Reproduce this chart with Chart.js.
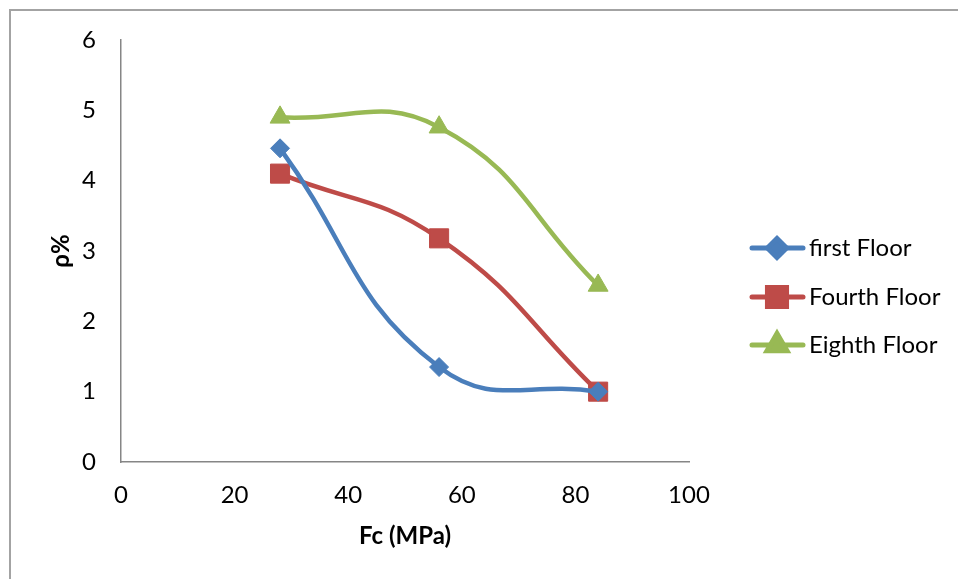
<!DOCTYPE html>
<html lang="en">
<head>
    <meta charset="UTF-8">
    <title>Fc vs ρ%</title>
    <script src="https://cdn.jsdelivr.net/npm/chart.js"></script>
    <style>
        body, html { margin: 0; padding: 0; background: #fff; }
        #frame { position: absolute; left: 9px; top: 9px; width: 980px; height: 620px; border: 2px solid #a3a3a3; box-sizing: border-box; }
        #chartContainer { position: absolute; left: 0; top: 0; width: 958px; height: 579px; }
    </style>
</head>
<body>
    <div id="frame"></div>
    <div id="chartContainer"><canvas id="chartCanvas" width="958" height="579"></canvas></div>

    <script>
        const fc = [28, 56, 84];
        const firstFloor = [4.46, 1.35, 1.0];
        const fourthFloor = [4.1, 3.18, 1.0];
        const eighthFloor = [4.9, 4.76, 2.51];
        const seriesNames = ['first Floor', 'Fourth Floor', 'Eighth Floor'];
        const xTicks = [0, 20, 40, 60, 80, 100];
        const yTicks = [0, 1, 2, 3, 4, 5, 6];

        const FONT = 'Lato, "Open Sans", sans-serif';
        const toPoints = ys => fc.map((x, i) => ({ x: x, y: ys[i] }));

        // legend on the right: line with marker, like the spreadsheet one
        const sideLegend = {
            id: 'sideLegend',
            afterDraw(chart) {
                const ctx = chart.ctx;
                const rows = [248, 297, 345];
                chart.data.datasets.forEach((ds, i) => {
                    const y = rows[i];
                    ctx.save();
                    ctx.strokeStyle = ds.borderColor;
                    ctx.lineWidth = 5;
                    ctx.lineCap = 'round';
                    ctx.beginPath();
                    ctx.moveTo(752, y);
                    ctx.lineTo(803, y);
                    ctx.stroke();
                    ctx.fillStyle = ds.backgroundColor;
                    ctx.strokeStyle = ds.backgroundColor;
                    Chart.helpers.drawPoint(ctx, { pointStyle: ds.pointStyle, radius: ds.pointRadius, rotation: 0, borderWidth: 1 }, 777, y);
                    ctx.fillStyle = '#000';
                    ctx.font = '24px ' + FONT;
                    ctx.textBaseline = 'middle';
                    ctx.textAlign = 'left';
                    ctx.fillText(ds.label, 809, y);
                    ctx.restore();
                });
            }
        };

        const ctx = document.getElementById('chartCanvas').getContext('2d');
        new Chart(ctx, {
            type: 'line',
            data: { datasets: [
                { label: seriesNames[0], data: toPoints(firstFloor), borderColor: '#4A7EBB', backgroundColor: '#4A7EBB', pointStyle: 'rectRot', pointRadius: 9.5 },
                { label: seriesNames[1], data: toPoints(fourthFloor), borderColor: '#BE4B48', backgroundColor: '#BE4B48', pointStyle: 'rect', pointRadius: 13.5 },
                { label: seriesNames[2], data: toPoints(eighthFloor), borderColor: '#98B954', backgroundColor: '#98B954', pointStyle: 'triangle', pointRadius: 11.5 }
            ]},
            options: {
                responsive: false,
                animation: false,
                datasets: { line: { borderWidth: 4.5, tension: 0.45, pointBorderWidth: 1, clip: false } },
                layout: { padding: { top: 40, right: 269, left: 0, bottom: 0 } },
                plugins: { legend: { display: false }, tooltip: { enabled: false } },
                scales: {
                    x: {
                        type: 'linear', min: 0, max: 100,
                        afterBuildTicks: s => { s.ticks = xTicks.map(v => ({ value: v })); },
                        afterFit: s => { s.height = 117; },
                        grid: { display: false, drawTicks: false },
                        border: { color: '#868686', width: 1.5 },
                        ticks: { color: '#000', padding: 19, font: { family: FONT, size: 24 } },
                        title: { display: true, text: 'Fc (MPa)', color: '#000', padding: { top: 0, bottom: 28 }, font: { family: FONT, size: 24, weight: 'bold' } }
                    },
                    y: {
                        min: 0, max: 6,
                        afterBuildTicks: s => { s.ticks = yTicks.map(v => ({ value: v })); },
                        afterFit: s => { s.width = 121; },
                        grid: { display: false, drawTicks: false },
                        border: { color: '#868686', width: 1.5 },
                        ticks: { color: '#000', padding: 25, font: { family: FONT, size: 24 } },
                        title: { display: true, text: 'ρ%', color: '#000', padding: { top: 47, bottom: 0 }, font: { family: FONT, size: 24, weight: 'bold' } }
                    }
                }
            },
            plugins: [sideLegend]
        });
    </script>
</body>
</html>
